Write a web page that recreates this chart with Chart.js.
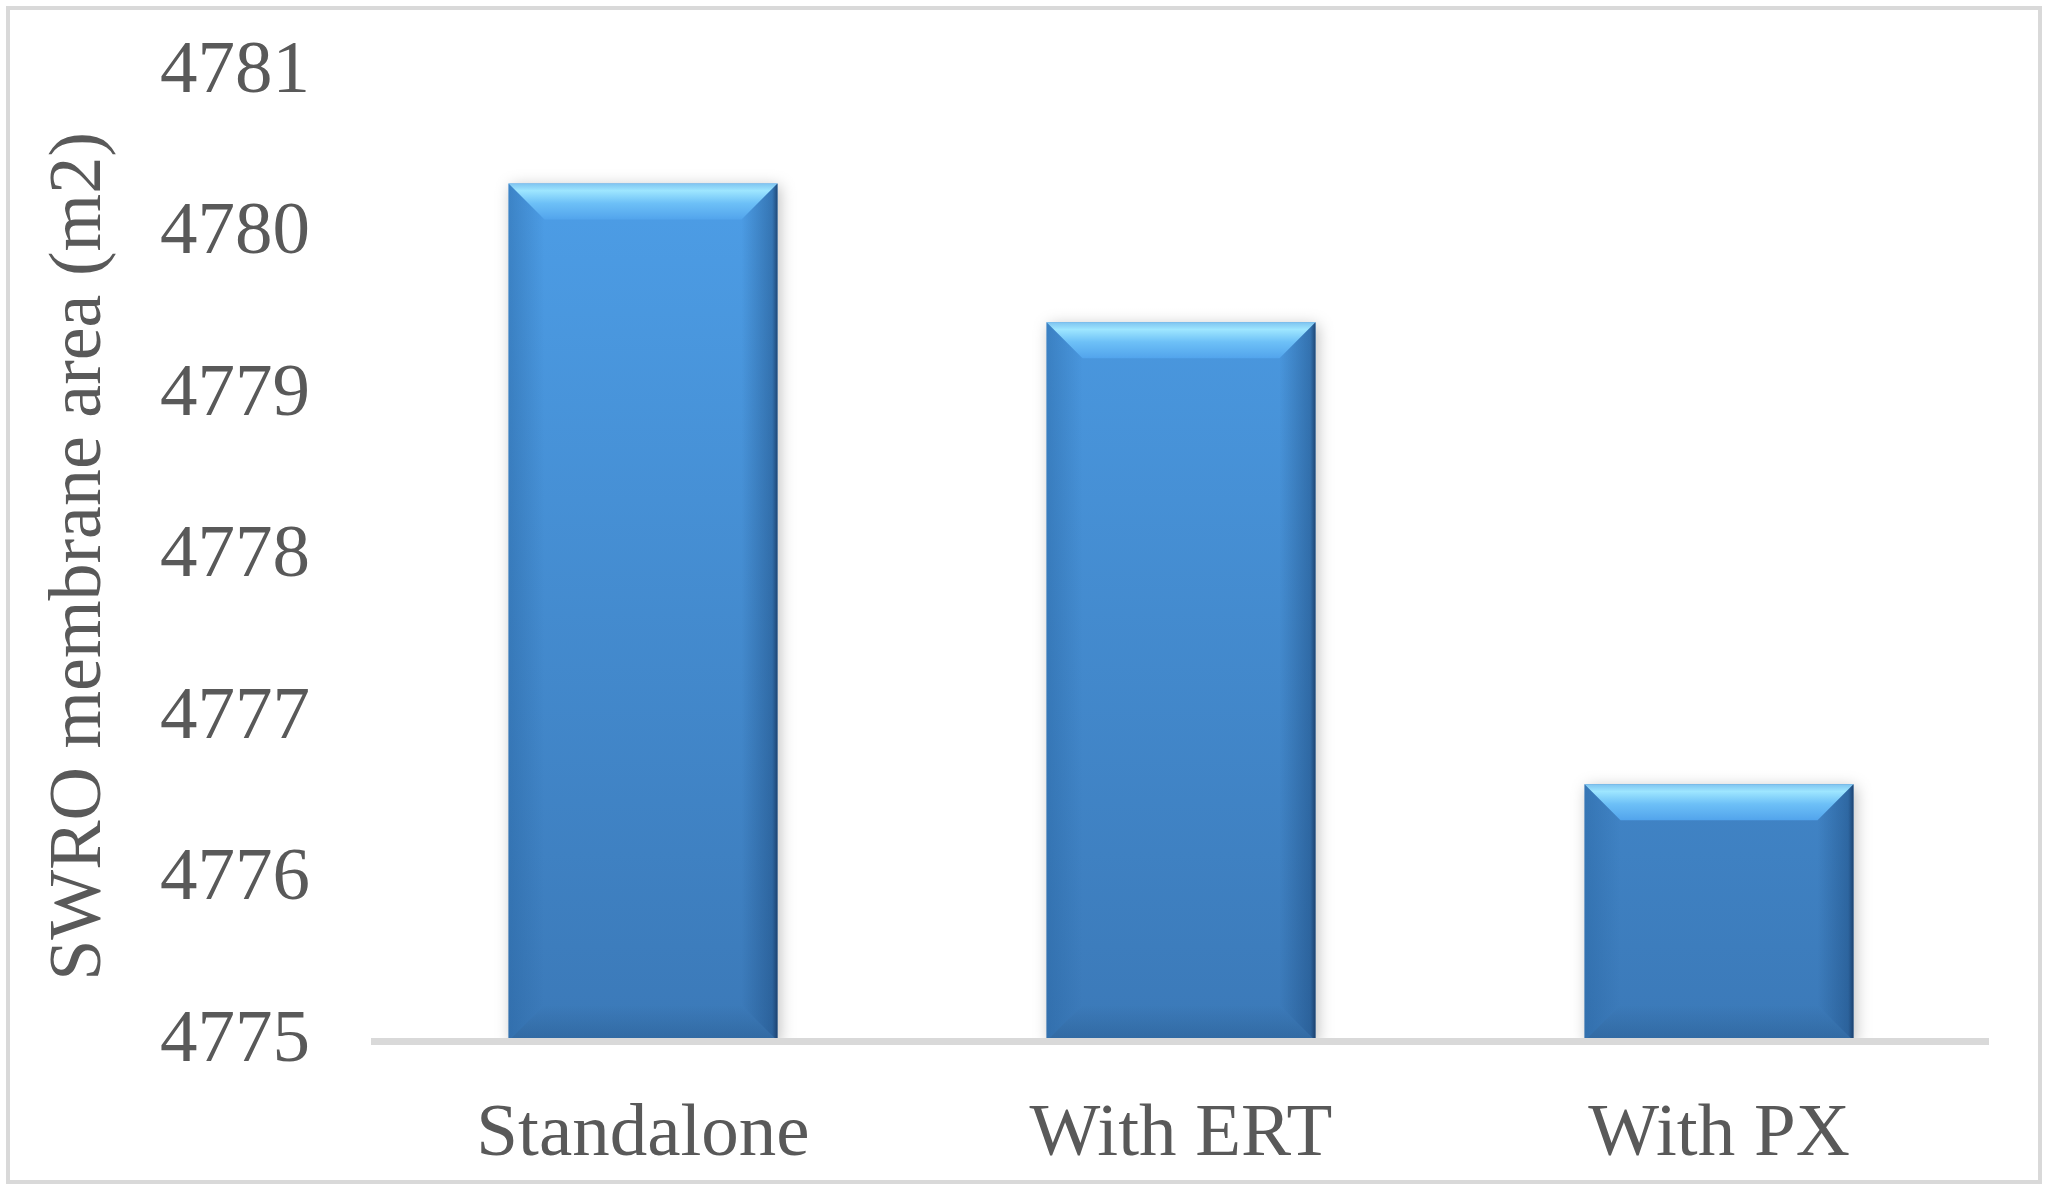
<!DOCTYPE html>
<html>
<head>
<meta charset="utf-8">
<script src="https://cdn.jsdelivr.net/npm/chart.js@4"></script>
<style>
  html, body { margin: 0; padding: 0; background: #ffffff; }
  #wrap { width: 2048px; height: 1190px; position: relative; }
</style>
</head>
<body>
<div id="wrap"><canvas id="barChart"></canvas></div>
<script>
const categories = ['Standalone', 'With ERT', 'With PX'];
const membraneArea = [4780.31, 4779.45, 4776.59];
const yTicks = [4775, 4776, 4777, 4778, 4779, 4780, 4781];

// light grey frame round the whole picture
const framePlugin = {
  id: 'frame',
  beforeDraw(chart) {
    const ctx = chart.ctx;
    ctx.save();
    ctx.fillStyle = '#ffffff';
    ctx.fillRect(0, 0, chart.width, chart.height);
    ctx.strokeStyle = '#d9d9d9';
    ctx.lineWidth = 4;
    ctx.strokeRect(8, 8, chart.width - 16, chart.height - 16);
    ctx.restore();
  }
};

// soft shadow behind the bars
const shadowPlugin = {
  id: 'barShadow',
  beforeDatasetsDraw(chart) {
    const ctx = chart.ctx;
    ctx.save();
    ctx.shadowColor = 'rgba(0,0,0,0.25)';
    ctx.shadowBlur = 14;
    ctx.shadowOffsetX = 2;
    ctx.shadowOffsetY = 3;
  },
  afterDatasetsDraw(chart) {
    chart.ctx.restore();
  }
};

// bevel look on every bar, taken from the bar elements
const bevelPlugin = {
  id: 'bevel',
  afterDatasetsDraw(chart) {
    const ctx = chart.ctx;
    chart.getDatasetMeta(0).data.forEach(bar => {
      const l = bar.x - bar.width / 2, r = bar.x + bar.width / 2;
      const t = bar.y, b = Math.min(bar.base, chart.chartArea.bottom);
      const d = 36;
      ctx.save();
      // top
      let g = ctx.createLinearGradient(0, t, 0, t + d);
      g.addColorStop(0, '#7fc4f0');
      g.addColorStop(0.2, '#9ee6ff');
      g.addColorStop(0.55, '#6dc0f7');
      g.addColorStop(1, '#52a4ec');
      ctx.fillStyle = g;
      ctx.beginPath();
      ctx.moveTo(l, t); ctx.lineTo(r, t); ctx.lineTo(r - d, t + d); ctx.lineTo(l + d, t + d);
      ctx.closePath(); ctx.fill();
      // left
      g = ctx.createLinearGradient(l, 0, l + d, 0);
      g.addColorStop(0, 'rgba(40,100,160,0.45)');
      g.addColorStop(1, 'rgba(40,100,160,0)');
      ctx.fillStyle = g;
      ctx.beginPath();
      ctx.moveTo(l, t); ctx.lineTo(l + d, t + d); ctx.lineTo(l + d, b - d); ctx.lineTo(l, b);
      ctx.closePath(); ctx.fill();
      // right
      g = ctx.createLinearGradient(r - d, 0, r, 0);
      g.addColorStop(0, 'rgba(25,70,120,0)');
      g.addColorStop(0.85, 'rgba(25,70,120,0.45)');
      g.addColorStop(1, 'rgba(20,50,90,0.8)');
      ctx.fillStyle = g;
      ctx.beginPath();
      ctx.moveTo(r, t); ctx.lineTo(r, b); ctx.lineTo(r - d, b - d); ctx.lineTo(r - d, t + d);
      ctx.closePath(); ctx.fill();
      // bottom
      g = ctx.createLinearGradient(0, b - d, 0, b);
      g.addColorStop(0, 'rgba(40,90,140,0)');
      g.addColorStop(1, 'rgba(40,90,140,0.5)');
      ctx.fillStyle = g;
      ctx.beginPath();
      ctx.moveTo(l, b); ctx.lineTo(l + d, b - d); ctx.lineTo(r - d, b - d); ctx.lineTo(r, b);
      ctx.closePath(); ctx.fill();
      ctx.restore();
    });
  }
};

const barCanvas = document.getElementById('barChart').getContext('2d');

new Chart(barCanvas, {
  type: 'bar',
  data: {
    labels: categories,
    datasets: [{
      label: 'SWRO membrane area (m2)',
      data: membraneArea,
      base: yTicks[0],
      backgroundColor: ctx => {
        const area = ctx.chart.chartArea;
        if (!area) return '#4a93dc';
        const g = ctx.chart.ctx.createLinearGradient(0, area.top, 0, area.bottom);
        g.addColorStop(0, '#4fa2ec');
        g.addColorStop(1, '#3b79b8');
        return g;
      },
      borderWidth: 0,
      categoryPercentage: 1.0,
      barPercentage: 0.5
    }]
  },
  options: {
    responsive: true,
    maintainAspectRatio: false,
    animation: false,
    layout: { padding: { left: 0, right: 60, top: 72, bottom: 9 } },
    plugins: {
      legend: { display: false },
      tooltip: { enabled: false }
    },
    scales: {
      x: {
        afterFit(scale) { scale.height = 140; },
        grid: { display: false, drawTicks: false },
        border: { display: true, color: '#d9d9d9', width: 7, z: 1 },
        ticks: {
          color: '#595959',
          padding: 49,
          font: { family: 'Liberation Serif', size: 75 }
        }
      },
      y: {
        min: 4775,
        max: 4781,
        afterFit(scale) {
          scale.width = 374;
          scale.paddingTop = 0;
          scale.paddingBottom = 0;
        },
        afterBuildTicks(scale) { scale.ticks = yTicks.map(v => ({ value: v })); },
        grid: { display: false, drawTicks: false },
        border: { display: false },
        ticks: {
          color: '#595959',
          padding: 64,
          callback: v => String(v),
          font: { family: 'Liberation Serif', size: 75 }
        },
        title: {
          display: true,
          text: 'SWRO membrane area (m2)',
          color: '#595959',
          padding: { top: 36, bottom: 0 },
          font: { family: 'Liberation Serif', size: 74, weight: 'normal' }
        }
      }
    }
  },
  plugins: [framePlugin, shadowPlugin, bevelPlugin]
});
</script>
</body>
</html>
